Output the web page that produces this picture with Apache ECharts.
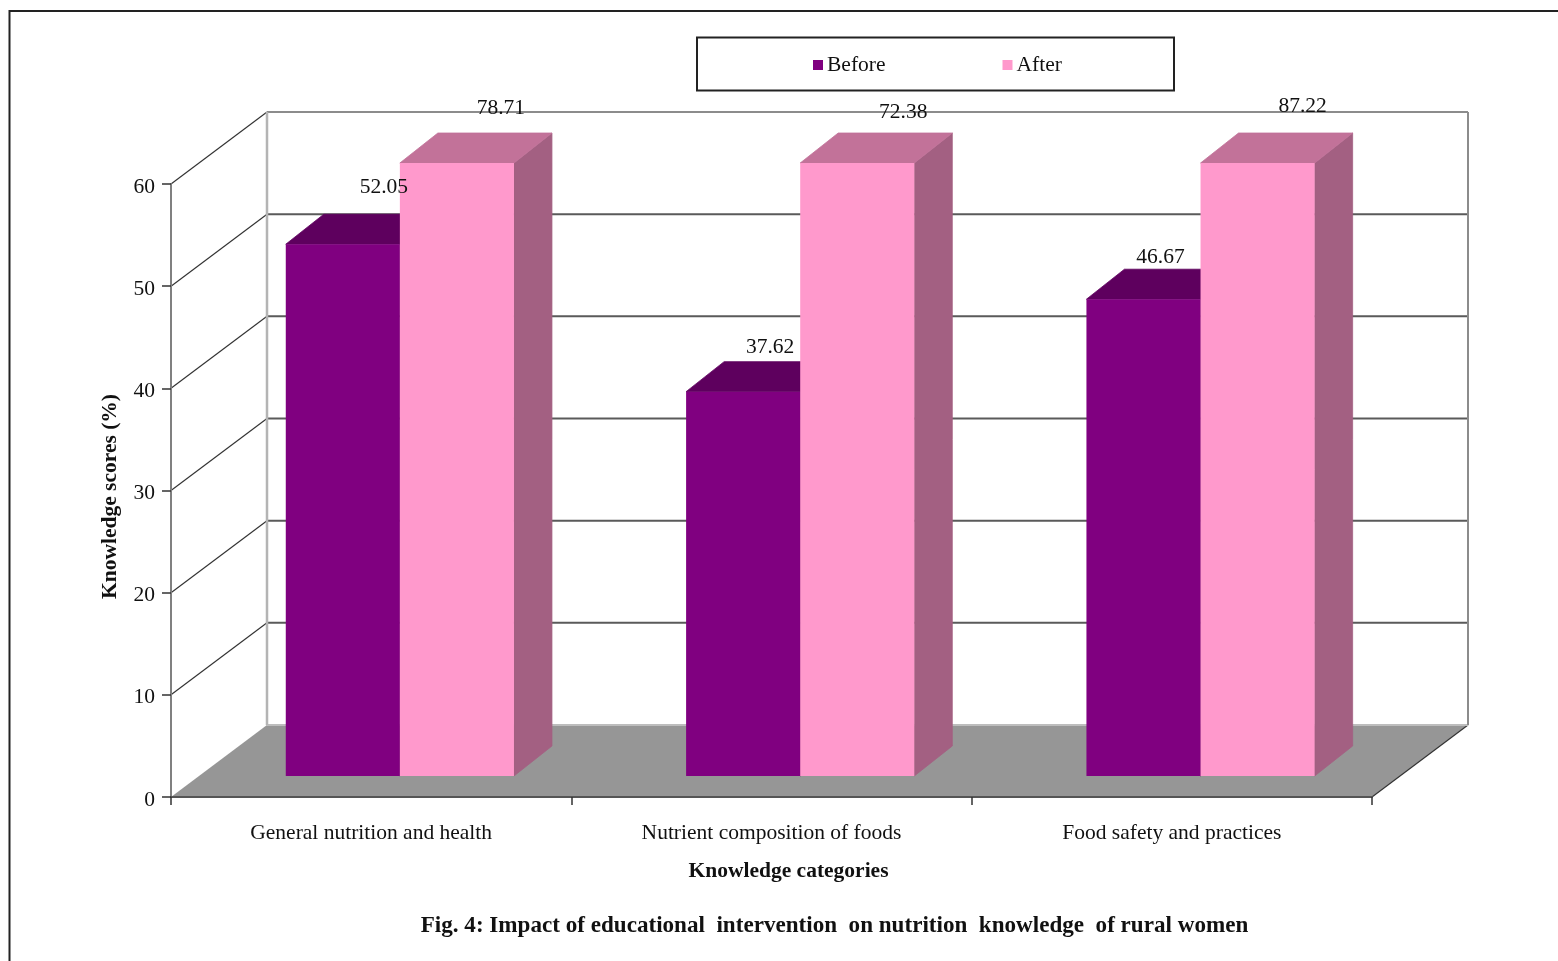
<!DOCTYPE html>
<html>
<head>
<meta charset="utf-8">
<title>Knowledge scores before and after the intervention</title>
<style>
  html, body { margin: 0; padding: 0; background: #fff; }
  #chart { width: 1558px; height: 961px; }
</style>
<script src="https://cdn.jsdelivr.net/npm/echarts@6/dist/echarts.min.js"></script>
</head>
<body>
<div id="chart"></div>
<script>
// Chart content
const categories = ['General nutrition and health', 'Nutrient composition of foods', 'Food safety and practices'];
const beforeScores = [52.05, 37.62, 46.67];
const afterScores = [78.71, 72.38, 87.22];
const yTicks = [0, 10, 20, 30, 40, 50, 60];
const yMax = 60;

// Oblique projection of the box: how far the back wall and the bars sit from the front plane
const WALL_DX = 96, WALL_DY = 72;
const BAR_NEAR_DX = 28.7, BAR_NEAR_DY = 21;
const BAR_DEPTH_DX = 38, BAR_DEPTH_DY = 30;
const BAR_BAND_SHARE = 0.285;

const FONT = '"Liberation Serif", "Times New Roman", serif';
const PURPLE = '#800080', PURPLE_TOP = '#5e005e';
const PINK = '#ff99cc', PINK_TOP = '#c27299', PINK_SIDE = '#a36082';

// Hand placement of the value labels, relative to the visible top of each bar
const beforeLabelShift = [[41, -57], [27, -44], [17, -42]];
const afterLabelShift = [[44, -55], [46, -51], [45, -57]];

function pairs(values) {
  return values.map((v, i) => [i, v]);
}

function barFrame(api, slot) {
  const cat = api.value(0);
  const shown = Math.min(api.value(1), yMax);
  const band = api.size([1, 0])[0];
  const w = band * BAR_BAND_SHARE;
  const top = api.coord([cat, shown]);
  const base = api.coord([cat, 0]);
  const x = top[0] + BAR_NEAR_DX + slot * w;
  return { x, w, top: top[1] - BAR_NEAR_DY, base: base[1] - BAR_NEAR_DY };
}

function face(fill) {
  return { fill, stroke: fill, lineWidth: 0.8 };
}

function renderBar(slot, front, topFace, side) {
  return function (params, api) {
    const f = barFrame(api, slot);
    const dx = BAR_DEPTH_DX, dy = BAR_DEPTH_DY;
    const r = f.x + f.w;
    return {
      type: 'group',
      children: [
        { type: 'polygon', shape: { points: [[r, f.top], [r + dx, f.top - dy], [r + dx, f.base - dy], [r, f.base]] }, style: face(side) },
        { type: 'polygon', shape: { points: [[f.x, f.top], [f.x + dx, f.top - dy], [r + dx, f.top - dy], [r, f.top]] }, style: face(topFace) },
        { type: 'rect', shape: { x: f.x, y: f.top, width: f.w, height: f.base - f.top }, style: { fill: front } }
      ]
    };
  };
}

function renderLabel(params, api) {
  const slot = api.value(2);
  const shift = (slot < 0 ? beforeLabelShift : afterLabelShift)[api.value(0)];
  const f = barFrame(api, slot);
  return {
    type: 'text',
    style: {
      x: f.x + f.w / 2 + shift[0],
      y: f.top + shift[1],
      text: api.value(1).toFixed(2),
      font: '21.5px ' + FONT,
      fill: '#111',
      align: 'center',
      verticalAlign: 'middle'
    }
  };
}

// Floor, back wall and side wall rules, one call per axis tick
function renderWall(params, api) {
  const v = api.value(0);
  const box = params.coordSys;
  const x0 = box.x, x1 = box.x + box.width;
  const y = api.coord([0, v])[1];
  const backY = y - WALL_DY;
  const children = [];
  if (v === 0) {
    children.push({
      type: 'polygon',
      shape: { points: [[x0, y], [x0 + WALL_DX, backY], [x1 + WALL_DX, backY], [x1, y]] },
      style: { fill: '#969696' }
    });
    children.push({
      type: 'polyline',
      shape: { points: [[x1, y], [x1 + WALL_DX, backY]] },
      style: { stroke: '#333', lineWidth: 1.2, fill: 'none' }
    });
    children.push({
      type: 'polyline',
      shape: { points: [[x0 + WALL_DX, backY], [x1 + WALL_DX, backY]] },
      style: { stroke: '#bdbdbd', lineWidth: 2, fill: 'none' }
    });
  } else {
    children.push({
      type: 'polyline',
      shape: { points: [[x0, y], [x0 + WALL_DX, backY]] },
      style: { stroke: '#333', lineWidth: 1.2, fill: 'none' }
    });
    children.push({
      type: 'polyline',
      shape: { points: [[x0 + WALL_DX, backY], [x1 + WALL_DX, backY]] },
      style: { stroke: v === yMax ? '#8c8c8c' : '#5a5a5a', lineWidth: 2, fill: 'none' }
    });
  }
  if (v === yMax) {
    const floorY = api.coord([0, 0])[1] - WALL_DY;
    children.push({
      type: 'polyline',
      shape: { points: [[x0 + WALL_DX, backY], [x0 + WALL_DX, floorY]] },
      style: { stroke: '#b4b4b4', lineWidth: 2.5, fill: 'none' }
    });
    children.push({
      type: 'polyline',
      shape: { points: [[x1 + WALL_DX, backY], [x1 + WALL_DX, floorY]] },
      style: { stroke: '#8c8c8c', lineWidth: 2, fill: 'none' }
    });
  }
  return { type: 'group', children };
}

const chart = echarts.init(document.getElementById('chart'), null, { renderer: 'canvas' });

chart.setOption({
  animation: false,
  backgroundColor: '#ffffff',
  textStyle: { fontFamily: FONT },
  grid: { left: 171, top: 184, width: 1201, height: 613 },
  title: {
    text: 'Fig. 4: Impact of educational  intervention  on nutrition  knowledge  of rural women',
    left: 829.5,
    textAlign: 'center',
    top: 910,
    textStyle: { fontFamily: FONT, fontSize: 23.1, fontWeight: 'bold', color: '#111' }
  },
  legend: {
    data: ['Before', 'After'],
    left: 813,
    top: 54,
    itemWidth: 10,
    itemHeight: 10,
    itemGap: 117,
    icon: 'rect',
    padding: 0,
    textStyle: { fontFamily: FONT, fontSize: 21.5, color: '#111', padding: [5, 0, 0, -1] }
  },
  xAxis: {
    type: 'category',
    data: categories,
    z: 5,
    boundaryGap: true,
    name: 'Knowledge categories',
    nameLocation: 'middle',
    nameGap: 63,
    nameTextStyle: { fontFamily: FONT, fontSize: 21.5, fontWeight: 'bold', color: '#111', padding: [0, 0, 0, 34] },
    axisLine: { show: true, lineStyle: { color: '#555', width: 2 } },
    axisTick: { show: true, length: 8, lineStyle: { color: '#333', width: 1.5 } },
    axisLabel: { fontFamily: FONT, fontSize: 21.5, color: '#111', margin: 25 },
    splitLine: { show: false }
  },
  yAxis: {
    type: 'value',
    min: 0,
    max: yMax,
    interval: 10,
    z: 5,
    name: 'Knowledge scores (%)',
    nameLocation: 'middle',
    nameGap: 50,
    nameTextStyle: { fontFamily: FONT, fontSize: 21.5, fontWeight: 'bold', color: '#111', padding: [0, 12, 0, 0] },
    axisLine: { show: true, lineStyle: { color: '#808080', width: 2 } },
    axisTick: { show: true, length: 9, lineStyle: { color: '#333', width: 1.5 } },
    axisLabel: {
      margin: 16,
      formatter: '{tick|{value}}',
      rich: { tick: { fontFamily: FONT, fontSize: 21.5, color: '#111', padding: [6, 0, 0, 0] } }
    },
    splitLine: { show: false }
  },
  graphic: [
    // Figure frame, open on the right and bottom
    { type: 'polyline', shape: { points: [[9.5, 961], [9.5, 11], [1558, 11]] }, style: { stroke: '#222', lineWidth: 2, fill: 'none' }, silent: true, z: 0 },
    // Legend box
    { type: 'rect', shape: { x: 697, y: 37.5, width: 477, height: 53 }, style: { stroke: '#222', lineWidth: 2, fill: 'none' }, silent: true, z: 0 }
  ],
  series: [
    {
      name: 'Walls',
      type: 'custom',
      z: 1,
      data: yTicks.map(v => [v]),
      encode: { y: 0 },
      renderItem: renderWall,
      silent: true
    },
    {
      name: 'Before',
      type: 'custom',
      z: 2,
      itemStyle: { color: PURPLE },
      data: pairs(beforeScores),
      encode: { x: 0, y: 1 },
      renderItem: renderBar(-1, PURPLE, PURPLE_TOP, PURPLE_TOP)
    },
    {
      name: 'After',
      type: 'custom',
      z: 3,
      itemStyle: { color: PINK },
      data: pairs(afterScores),
      encode: { x: 0, y: 1 },
      renderItem: renderBar(0, PINK, PINK_TOP, PINK_SIDE)
    },
    {
      name: 'Value labels',
      type: 'custom',
      z: 4,
      data: pairs(beforeScores).map(p => [p[0], p[1], -1]).concat(pairs(afterScores).map(p => [p[0], p[1], 0])),
      encode: { x: 0, y: 1 },
      renderItem: renderLabel,
      silent: true
    }
  ]
});
</script>
</body>
</html>
